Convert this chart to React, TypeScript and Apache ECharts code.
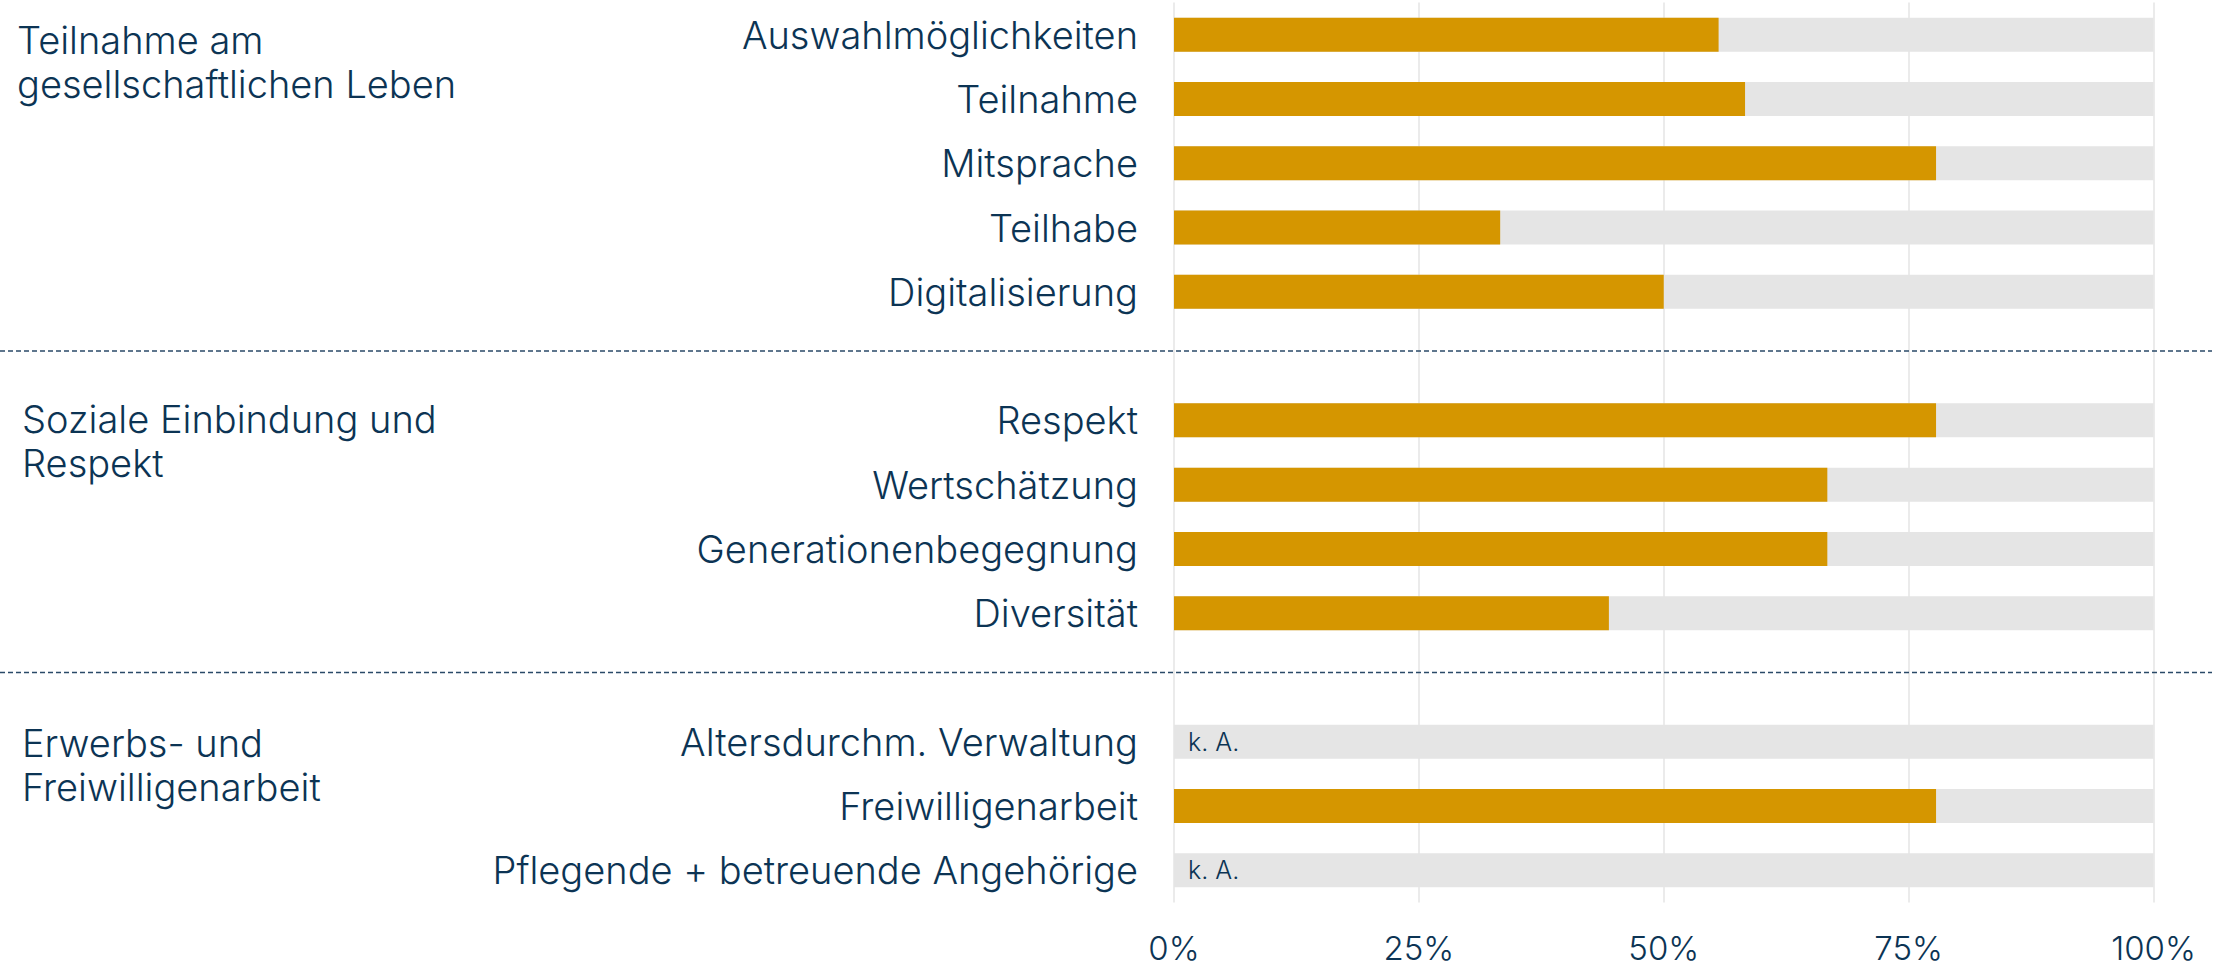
import React, { useEffect, useRef } from "react";
import * as echarts from "echarts";

// ---- data ----
const groupNames = [
  "Teilnahme am\ngesellschaftlichen Leben",
  "Soziale Einbindung und\nRespekt",
  "Erwerbs- und\nFreiwilligenarbeit",
];
const group1Items = ["Auswahlmöglichkeiten", "Teilnahme", "Mitsprache", "Teilhabe", "Digitalisierung"];
const group1Values: (number | null)[] = [55.6, 58.3, 77.8, 33.3, 50.0];
const group2Items = ["Respekt", "Wertschätzung", "Generationenbegegnung", "Diversität"];
const group2Values: (number | null)[] = [77.8, 66.7, 66.7, 44.4];
const group3Items = ["Altersdurchm. Verwaltung", "Freiwilligenarbeit", "Pflegende + betreuende Angehörige"];
const group3Values: (number | null)[] = [null, 77.8, null];
const xTicks = [0, 25, 50, 75, 100];
const missingLabel = "k. A.";

// ---- style ----
const W = 2226;
const H = 969;
const FONT = "Inter, 'Noto Sans', sans-serif";
const WEIGHT = 300;
const NAVY = "#0c3454";
const GOLD = "#d59600";
const BG = "#e5e5e5";
const GRIDLINE = "#e4e4e4";
const GRID_LEFT = 1174;
const GRID_RIGHT = 72.5;
const GRID_TOP = 2.5;
const GRID_HEIGHT = 900;

export default function App() {
  const ref = useRef<HTMLDivElement>(null);

  useEffect(() => {
    if (!ref.current) return;
    const chart = echarts.init(ref.current, undefined, { renderer: "svg" });

    const groups = [
      { items: group1Items, values: group1Values },
      { items: group2Items, values: group2Values },
      { items: group3Items, values: group3Values },
    ];
    const categories: string[] = [];
    const values: (number | null)[] = [];
    const isRow: boolean[] = [];
    const firstRowIndex: number[] = [];
    const spacerIndex: number[] = [];
    groups.forEach((g, gi) => {
      if (gi > 0) {
        spacerIndex.push(categories.length);
        categories.push(" ".repeat(gi));
        values.push(null);
        isRow.push(false);
      }
      firstRowIndex.push(categories.length);
      g.items.forEach((it, i) => {
        categories.push(it);
        values.push(g.values[i]);
        isRow.push(true);
      });
    });
    const n = categories.length;
    const slot = GRID_HEIGHT / n;
    const rowCenter = (i: number) => GRID_TOP + slot * (i + 0.5);

    const bgData = categories.map((_, i) =>
      isRow[i]
        ? {
            value: 100,
            label: {
              show: values[i] === null,
              formatter: missingLabel,
              position: "insideLeft",
              distance: 14,
              color: NAVY,
              fontFamily: FONT,
              fontWeight: WEIGHT,
              fontSize: 25,
            },
          }
        : { value: null }
    );

    const groupLabelOffsets = [5, -1.5, 1];
    const groupLabelX = [17, 22, 22];

    const graphics: any[] = [];
    groupNames.forEach((name, gi) => {
      graphics.push({
        type: "text",
        x: groupLabelX[gi],
        y: rowCenter(firstRowIndex[gi]) + groupLabelOffsets[gi] - 22,
        style: {
          text: name,
          fill: NAVY,
          font: `${WEIGHT} 38px ${FONT}`,
          lineHeight: 44,
          verticalAlign: "top",
          align: "left",
        },
      });
    });
    spacerIndex.forEach((si) => {
      const y = rowCenter(si) - 5;
      graphics.push({
        type: "line",
        shape: { x1: 0, y1: y, x2: 2212, y2: y },
        style: { stroke: "#2a4a68", lineWidth: 1.5, lineDash: [5, 3] },
        z: 10,
      });
    });

    chart.setOption({
      animation: false,
      grid: { left: GRID_LEFT, right: GRID_RIGHT, top: GRID_TOP, height: GRID_HEIGHT, containLabel: false },
      xAxis: {
        type: "value",
        min: xTicks[0],
        max: xTicks[xTicks.length - 1],
        interval: xTicks[1] - xTicks[0],
        axisLine: { show: false },
        axisTick: { show: false },
        splitLine: { show: true, lineStyle: { color: GRIDLINE, width: 1.5 } },
        axisLabel: {
          formatter: "{value}%",
          color: NAVY,
          fontFamily: FONT,
          fontWeight: WEIGHT,
          fontSize: 33,
          lineHeight: 30,
          margin: 30,
        },
      },
      yAxis: {
        type: "category",
        inverse: true,
        data: categories,
        axisLine: { show: false },
        axisTick: { show: false },
        splitLine: { show: false },
        axisLabel: {
          color: NAVY,
          fontFamily: FONT,
          fontWeight: WEIGHT,
          fontSize: 38,
          margin: 36,
          interval: 0,
        },
      },
      series: [
        {
          type: "bar",
          data: bgData,
          barWidth: 34,
          itemStyle: { color: BG },
          silent: true,
          z: 1,
        },
        {
          type: "bar",
          data: values,
          barWidth: 34,
          barGap: "-100%",
          itemStyle: { color: GOLD },
          z: 2,
        },
      ],
      graphic: graphics,
    });

    return () => chart.dispose();
  }, []);

  return (
    <div
      ref={ref}
      style={{ position: "absolute", left: 0, top: 0, width: W, height: H, background: "#fff" }}
    />
  );
}
